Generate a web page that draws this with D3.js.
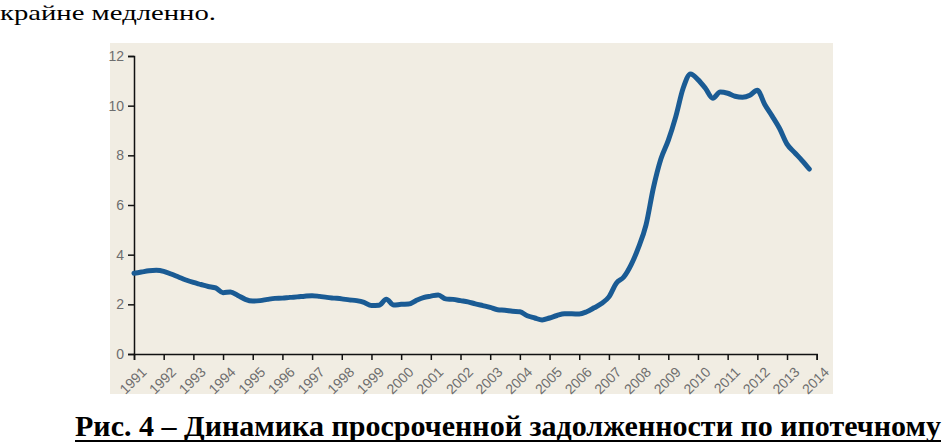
<!DOCTYPE html>
<html><head><meta charset="utf-8">
<script src="https://cdn.jsdelivr.net/npm/d3@7"></script>
<style>
html,body{margin:0;padding:0;background:#fff;}
svg{display:block;}
</style></head>
<body>
<svg id="c" width="944" height="446"></svg>
<script>
// ---- data ----
const startYear = 1991;
const quarterStep = 0.25;
const values = [
  3.25, 3.30, 3.35, 3.37,   // 1991
  3.33, 3.22, 3.10, 2.98,   // 1992
  2.88, 2.80, 2.72, 2.66,   // 1993
  2.47, 2.50, 2.36, 2.20,   // 1994
  2.13, 2.15, 2.20, 2.24,   // 1995
  2.25, 2.28, 2.30, 2.33,   // 1996
  2.35, 2.32, 2.28, 2.25,   // 1997
  2.22, 2.18, 2.15, 2.08,   // 1998
  1.95, 1.96, 2.20, 1.97,   // 1999
  2.00, 2.01, 2.15, 2.27,   // 2000
  2.33, 2.38, 2.22, 2.20,   // 2001
  2.15, 2.10, 2.02, 1.95,   // 2002
  1.88, 1.78, 1.76, 1.72,   // 2003
  1.70, 1.54, 1.45, 1.37,   // 2004
  1.45, 1.55, 1.62, 1.62,   // 2005
  1.61, 1.70, 1.86, 2.03,   // 2006
  2.30, 2.85, 3.10, 3.60,   // 2007
  4.30, 5.20, 6.70, 7.85,   // 2008
  8.60, 9.55, 10.70, 11.28, // 2009
  11.05, 10.70, 10.30, 10.55, // 2010
  10.50, 10.38, 10.34, 10.42, // 2011
  10.62, 10.05, 9.58, 9.08, // 2012
  8.45, 8.12, 7.80, 7.45    // 2013
];
const yearTicks = d3.range(1991, 2015);
const yTicks = [0, 2, 4, 6, 8, 10, 12];
const topText = "крайне медленно.";
const captionText = "Рис. 4 – Динамика просроченной задолженности по ипотечному";

const series = values.map((v, i) => ({t: startYear + i * quarterStep, v}));

// ---- layout ----
const svg = d3.select("#c");
const panel = {x0: 110, y0: 43, x1: 833, y1: 394};
const x = d3.scaleLinear().domain([1991, 2014]).range([134, 816.7]);
const y = d3.scaleLinear().domain([0, 12]).range([354, 56]);

svg.append("text").attr("x", 0).attr("y", 20)
  .attr("font-family", "'Liberation Serif','Times New Roman',serif")
  .attr("font-size", 22).attr("fill", "#000")
  .attr("textLength", 216).attr("lengthAdjust", "spacingAndGlyphs")
  .text(topText);

svg.append("rect").attr("x", panel.x0).attr("y", panel.y0)
  .attr("width", panel.x1 - panel.x0).attr("height", panel.y1 - panel.y0)
  .attr("fill", "#f1ede3");

// y axis
const yAxis = d3.axisLeft(y).tickValues(yTicks).tickSize(6).tickPadding(4).tickFormat(d3.format("d"));
const gy = svg.append("g").attr("transform", `translate(${x(1991)},0)`).call(yAxis);
gy.select(".domain").attr("stroke", "#111").attr("stroke-width", 1.5);
gy.selectAll(".tick line").attr("stroke", "#111").attr("stroke-width", 1.5);
gy.selectAll(".tick text")
  .attr("font-family", "'Liberation Sans Narrow','Arial Narrow','Liberation Sans',sans-serif")
  .attr("font-size", 14).attr("fill", "#6e6e6e");

// x axis
const xAxis = d3.axisBottom(x).tickValues(yearTicks).tickSize(6).tickFormat(d3.format("d"));
const gx = svg.append("g").attr("transform", `translate(0,${y(0)})`).call(xAxis);
gx.select(".domain").attr("stroke", "#111").attr("stroke-width", 1.5);
gx.selectAll(".tick line").attr("stroke", "#111").attr("stroke-width", 1.5);
gx.selectAll(".tick text")
  .attr("font-family", "'Liberation Sans Narrow','Arial Narrow','Liberation Sans',sans-serif")
  .attr("font-size", 14).attr("fill", "#6e6e6e")
  .attr("text-anchor", "end")
  .attr("y", 0).attr("dy", "0.7em")
  .attr("transform", "translate(6,12) rotate(-45)");

// line
const line = d3.line().x(d => x(d.t)).y(d => y(d.v)).curve(d3.curveMonotoneX);
svg.append("path").datum(series)
  .attr("d", line).attr("fill", "none")
  .attr("stroke", "#1a5b94").attr("stroke-width", 5)
  .attr("stroke-linejoin", "round").attr("stroke-linecap", "round");

// caption
svg.append("text").attr("x", 75).attr("y", 436)
  .attr("font-family", "'Liberation Serif','Times New Roman',serif")
  .attr("font-weight", "bold").attr("font-size", 30).attr("fill", "#000")
  .attr("textLength", 866).attr("lengthAdjust", "spacingAndGlyphs")
  .text(captionText);
svg.append("line").attr("x1", 75).attr("x2", 941).attr("y1", 441).attr("y2", 441)
  .attr("stroke", "#000").attr("stroke-width", 2);
</script>
</body></html>
